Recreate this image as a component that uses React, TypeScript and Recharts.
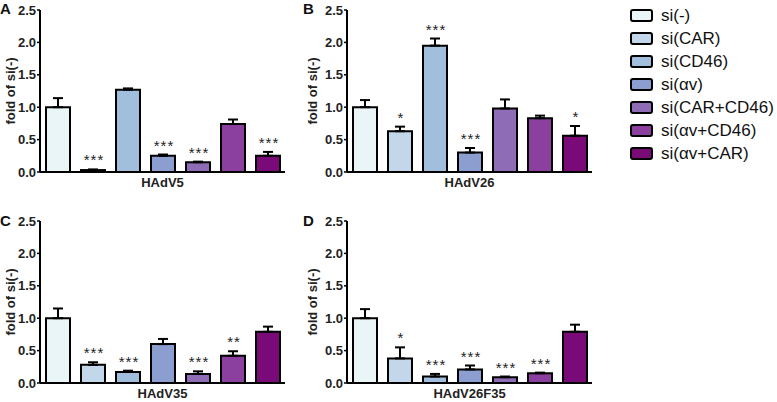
import React from "react";
import { BarChart, Bar, XAxis, YAxis, ErrorBar, LabelList } from "recharts";

const seriesKeys = ["neg", "car", "cd46", "av", "carCd46", "avCd46", "avCar"];
const seriesLabels = [
  "si(-)",
  "si(CAR)",
  "si(CD46)",
  "si(αv)",
  "si(CAR+CD46)",
  "si(αv+CD46)",
  "si(αv+CAR)",
];
const seriesColors = [
  "#eaf5f8",
  "#c3d7ea",
  "#a2bedd",
  "#8c9dcf",
  "#8e6db6",
  "#8b3f9f",
  "#7a0a77",
];

const viruses = ["HAdV5", "HAdV26", "HAdV35", "HAdV26F35"];
const yTicks = [0, 0.5, 1, 1.5, 2, 2.5];

const hadv5Mean = [1.0, 0.03, 1.27, 0.25, 0.15, 0.74, 0.25];
const hadv5Sem = [0.14, 0.01, 0.02, 0.02, 0.01, 0.07, 0.06];
const hadv5Sig = ["", "***", "", "***", "***", "", "***"];

const hadv26Mean = [1.0, 0.63, 1.95, 0.3, 0.98, 0.83, 0.56];
const hadv26Sem = [0.11, 0.07, 0.11, 0.07, 0.14, 0.04, 0.15];
const hadv26Sig = ["", "*", "***", "***", "", "", "*"];

const hadv35Mean = [1.0, 0.28, 0.17, 0.6, 0.14, 0.42, 0.79];
const hadv35Sem = [0.15, 0.04, 0.02, 0.08, 0.04, 0.07, 0.08];
const hadv35Sig = ["", "***", "***", "", "***", "**", ""];

const hadv26f35Mean = [1.0, 0.38, 0.1, 0.21, 0.09, 0.15, 0.79];
const hadv26f35Sem = [0.14, 0.17, 0.04, 0.06, 0.01, 0.01, 0.11];
const hadv26f35Sig = ["", "*", "***", "***", "***", "***", ""];

const FONT = "Arial, 'Liberation Sans', sans-serif";

const buildRow = (virus: string, mean: number[], sem: number[], sig: string[]) => {
  const row: Record<string, any> = { virus };
  seriesKeys.forEach((k, i) => {
    row[k] = mean[i];
    row[k + "Err"] = [0, sem[i]];
    row[k + "Sig"] = sig[i];
  });
  return row;
};

const panels = [
  { letter: "A", row: buildRow(viruses[0], hadv5Mean, hadv5Sem, hadv5Sig), left: 0, top: 0, axisW: 40, labelDx: 10 },
  { letter: "B", row: buildRow(viruses[1], hadv26Mean, hadv26Sem, hadv26Sig), left: 299, top: 0, axisW: 48, labelDx: 13 },
  { letter: "C", row: buildRow(viruses[2], hadv35Mean, hadv35Sem, hadv35Sig), left: 0, top: 211, axisW: 40, labelDx: 10 },
  { letter: "D", row: buildRow(viruses[3], hadv26f35Mean, hadv26f35Sem, hadv26f35Sig), left: 299, top: 211, axisW: 48, labelDx: 13 },
];

const YLabel = (props: any) => {
  const { viewBox, dx } = props;
  const cx = viewBox.x + dx;
  const cy = viewBox.y + viewBox.height / 2;
  return (
    <text
      x={cx}
      y={cy}
      transform={`rotate(-90 ${cx} ${cy})`}
      textAnchor="middle"
      dominantBaseline="central"
      fontFamily={FONT}
      fontWeight="bold"
      fontSize={13}
      fill="#222"
    >
      fold of si(-)
    </text>
  );
};

// stars sit just above the error bar cap
const starLabel = (row: Record<string, any>, key: string) => (props: any) => {
  const { x, y, width, height, value } = props;
  if (!value) return null;
  const pxPerUnit = height / row[key];
  const errTop = y - row[key + "Err"][1] * pxPerUnit;
  return (
    <text
      x={x + width / 2 + 1}
      y={errTop - 4}
      textAnchor="middle"
      fontFamily={FONT}
      fontSize={15}
      letterSpacing={1}
      fill="#222"
    >
      {value}
    </text>
  );
};

const Panel = ({ letter, row, left, top, axisW, labelDx }: any) => (
  <div style={{ position: "absolute", left, top }}>
    <BarChart
      width={axisW + 250}
      height={191}
      data={[row]}
      margin={{ top: 10, right: 5, left: 0, bottom: 0 }}
      barSize={24}
      barGap={11}
    >
      <XAxis
        dataKey="virus"
        height={19}
        tickLine={false}
        tickSize={0}
        tickMargin={6}
        axisLine={{ stroke: "#000", strokeWidth: 2 }}
        tick={{ fontFamily: FONT, fontWeight: "bold", fontSize: 13, fill: "#222" }}
      />
      <YAxis
        width={axisW}
        domain={[0, 2.5]}
        ticks={yTicks}
        tickFormatter={(v: number) => v.toFixed(1)}
        tickSize={3}
        tickMargin={1}
        axisLine={{ stroke: "#000", strokeWidth: 2 }}
        tickLine={{ stroke: "#000", strokeWidth: 1.5 }}
        tick={{ fontFamily: FONT, fontWeight: "bold", fontSize: 13, fill: "#222" }}
        label={<YLabel dx={labelDx} />}
      />
      {seriesKeys.map((k, i) => (
        <Bar
          key={k}
          dataKey={k}
          name={seriesLabels[i]}
          fill={seriesColors[i]}
          stroke="#000"
          strokeWidth={2}
          isAnimationActive={false}
        >
          <ErrorBar dataKey={k + "Err"} direction="y" width={5} stroke="#000" strokeWidth={2} />
          <LabelList dataKey={k + "Sig"} content={starLabel(row, k)} />
        </Bar>
      ))}
    </BarChart>
    <div
      style={{
        position: "absolute",
        left: letter === "A" || letter === "C" ? 0 : 4,
        top: letter === "A" || letter === "B" ? 0 : 1,
        fontFamily: FONT,
        fontWeight: "bold",
        fontSize: 15,
        lineHeight: "18px",
        color: "#111",
      }}
    >
      {letter}
    </div>
  </div>
);

const Legend = () => (
  <div style={{ position: "absolute", left: 630, top: 4, fontFamily: FONT }}>
    {seriesLabels.map((label, i) => (
      <div key={label} style={{ display: "flex", alignItems: "center", height: 23 }}>
        <div
          style={{
            width: 19,
            height: 9,
            background: seriesColors[i],
            border: "2.5px solid #000",
            borderRadius: 3,
            marginRight: 8,
          }}
        />
        <span style={{ fontSize: 17, color: "#111" }}>{label}</span>
      </div>
    ))}
  </div>
);

export default function App() {
  return (
    <div style={{ position: "absolute", left: 0, top: 0, width: 777, height: 402, background: "#fff", overflow: "hidden" }}>
      <style>{`body{margin:0;overflow:hidden}`}</style>
      {panels.map((p) => (
        <Panel key={p.letter} {...p} />
      ))}
      <Legend />
    </div>
  );
}
